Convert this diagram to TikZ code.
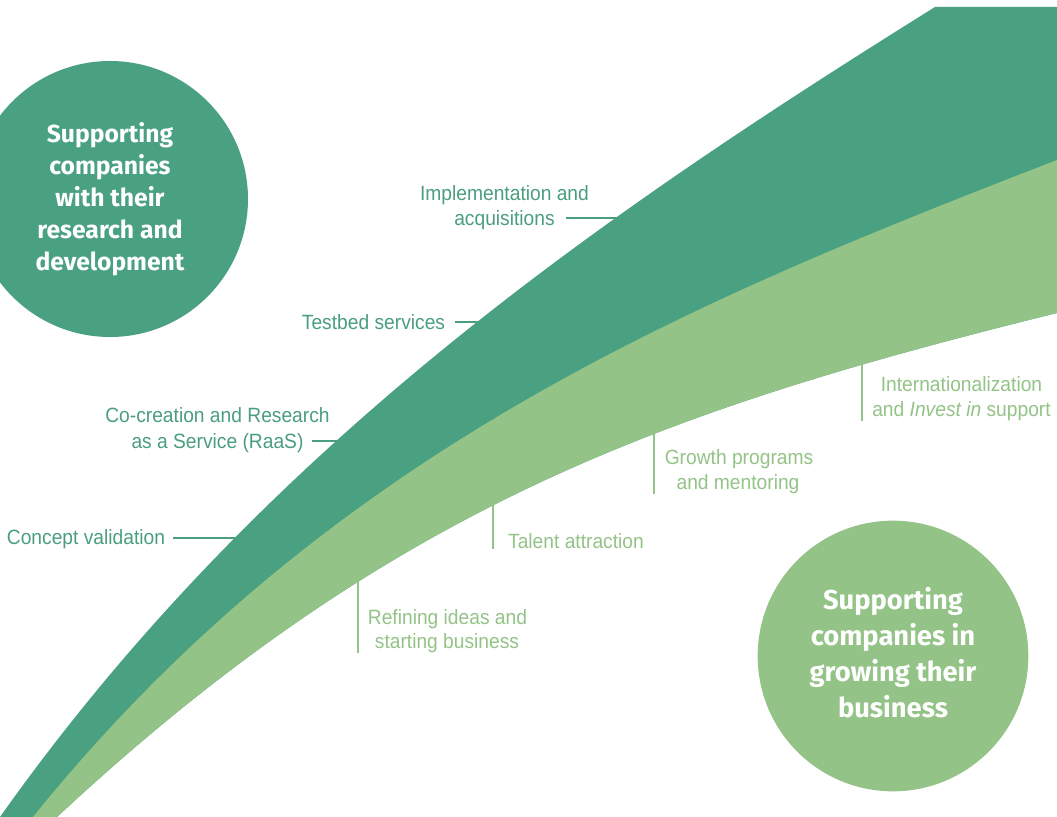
\documentclass[tikz,border=0pt]{standalone}
\usepackage{fontspec}
\setmainfont{Liberation Sans}
\newfontfamily\lblfont[FakeStretch=0.93]{Liberation Sans}
\newfontfamily\circfont{Fira Sans}
\definecolor{darkG}{HTML}{4AA181}
\definecolor{lightG}{HTML}{93C386}
\definecolor{darkT}{HTML}{4A9E7E}
\definecolor{lightT}{HTML}{93C386}
\begin{document}
\begin{tikzpicture}[x=0.75pt,y=-0.75pt,
  lbl/.style={font=\lblfont\fontsize{15.5pt}{18pt}\selectfont, inner sep=0pt, anchor=base},
  dlbl/.style={lbl, text=darkT},
  llbl/.style={lbl, text=lightT},
  dtick/.style={draw=darkT, line width=2.2pt},
  ltick/.style={draw=lightT, line width=2.2pt},
  bubble/.style={circle, inner sep=0pt},
  bubbletext/.style={inner sep=0pt, text=white, align=center}
]
\useasboundingbox (0,0) rectangle (1057,817);

% dark labels and their ticks (ticks run under the band)
\node[dlbl] (implA) at (504.5,200) {Implementation and};
\node[dlbl] (implB) at (504.5,225) {acquisitions};
\coordinate (implE) at (628,218);
\draw[dtick] ([xshift=8.5pt]implB.east |- implE) -- (implE);

\node[dlbl] (test) at (373.5,329) {Testbed services};
\coordinate (testE) at (492,322);
\draw[dtick] ([xshift=7pt]test.east |- testE) -- (testE);

\node[dlbl] (coA) at (217.5,422) {Co-creation and Research};
\node[dlbl] (coB) at (217.5,448) {as a Service (RaaS)};
\coordinate (coE) at (358,441);
\draw[dtick] ([xshift=6pt]coB.east |- coE) -- (coE);

\node[dlbl] (conc) at (86,544.5) {Concept validation};
\coordinate (concE) at (248,538);
\draw[dtick] ([xshift=6pt]conc.east |- concE) -- (concE);

% light labels and their ticks
\node[llbl] (refA) at (447.5,624) {Refining ideas and};
\node[llbl] (refB) at (447,648) {starting business};
\coordinate (refT) at (358,570);
\draw[ltick] (refT) -- (refT |- refB.south);

\node[llbl] (tal) at (576,548.5) {Talent attraction};
\coordinate (talT) at (493,495);
\draw[ltick] (talT) -- (talT |- tal.south);

\node[llbl] (groA) at (739,464) {Growth programs};
\node[llbl] (groB) at (738,489) {and mentoring};
\coordinate (groT) at (654,426);
\draw[ltick] (groT) -- (groT |- groB.south);

\node[llbl] (intA) at (961.5,391) {Internationalization};
\node[llbl] (intB) at (961.5,416) {and \textit{Invest in} support};
\coordinate (intT) at (862,355);
\draw[ltick] (intT) -- (intT |- intB.south);

% bands
\fill[darkG] (-9,829) -- (0,817) .. controls (260,450) and (595,219) .. (935,7)
  -- (1070,7) -- (1070,310) -- (1057,313)
  .. controls (669,409) and (393,504) .. (57,817) -- (46,828) -- cycle;
\fill[lightG] (24,828) -- (33,817) .. controls (333,445) and (704,297) .. (1057,160)
  -- (1070,155) -- (1070,310) -- (1057,313)
  .. controls (669,409) and (393,504) .. (57,817) -- (46,828) -- cycle;

% circles
\node[bubble, fill=darkG, minimum size=207pt] (rd) at (110,199) {};
\node[bubbletext, font=\circfont\bfseries\fontsize{18.5pt}{24pt}\selectfont] (rdt) at (rd.center)
  {Supporting\\companies\\with their\\research and\\development};
\node[bubble, fill=lightG, minimum size=203pt] (gb) at (893,656) {};
\node[bubbletext, font=\circfont\bfseries\fontsize{20.5pt}{27pt}\selectfont] (gbt) at (893,653)
  {Supporting\\companies in\\growing their\\business};
\end{tikzpicture}
\end{document}
